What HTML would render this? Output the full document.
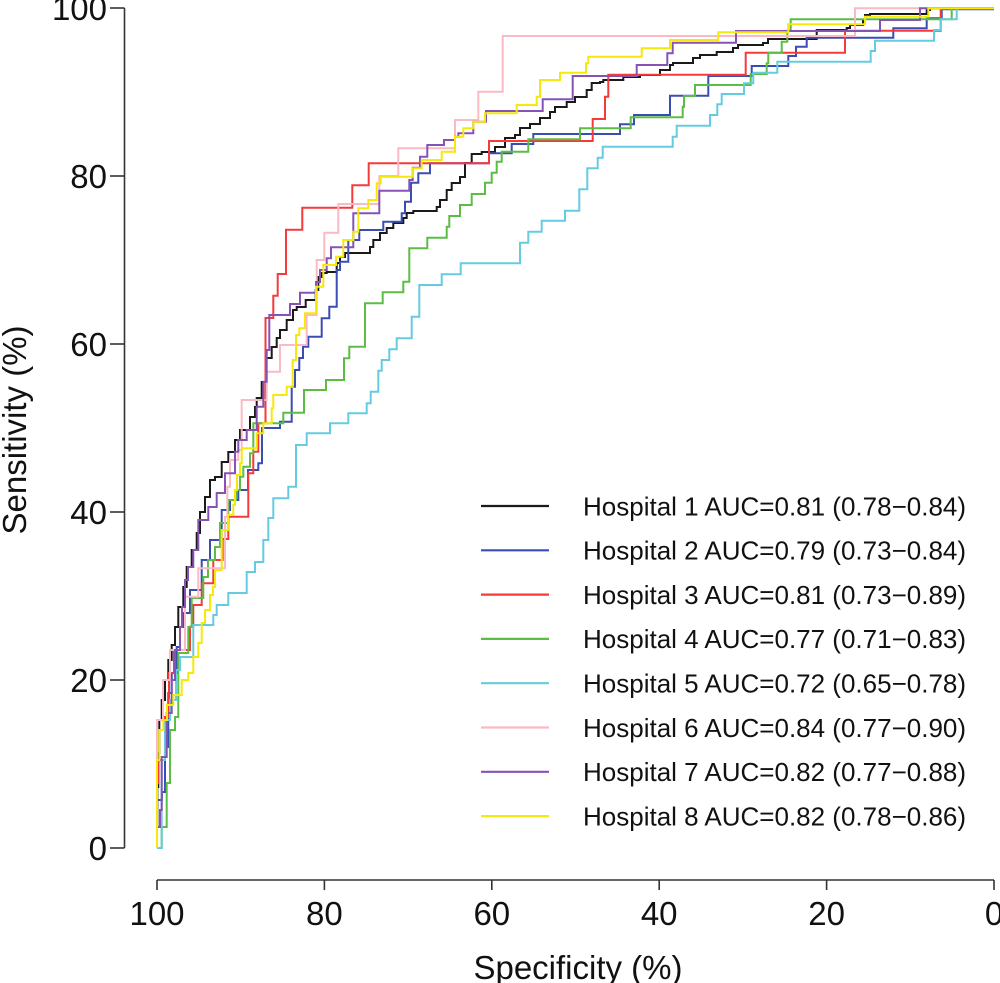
<!DOCTYPE html>
<html>
<head>
<meta charset="utf-8">
<style>
  html, body { margin: 0; padding: 0; background: #ffffff; }
  svg { display: block; }
  text { font-family: "Liberation Sans", Arial, sans-serif; fill: #111; }
</style>
</head>
<body>
<svg width="1000" height="983" viewBox="0 0 1000 983" xmlns="http://www.w3.org/2000/svg">
  <rect width="1000" height="983" fill="#ffffff"/>

  <!-- Axes -->
  <g stroke="#333" stroke-width="1.6" fill="none">
    <line x1="124.5" y1="8" x2="124.5" y2="848"/>
    <line x1="110" y1="848" x2="124.5" y2="848"/>
    <line x1="110" y1="680" x2="124.5" y2="680"/>
    <line x1="110" y1="512" x2="124.5" y2="512"/>
    <line x1="110" y1="344" x2="124.5" y2="344"/>
    <line x1="110" y1="176" x2="124.5" y2="176"/>
    <line x1="110" y1="8" x2="124.5" y2="8"/>

    <line x1="157" y1="880" x2="994" y2="880"/>
    <line x1="157" y1="880" x2="157" y2="890"/>
    <line x1="324.4" y1="880" x2="324.4" y2="890"/>
    <line x1="491.8" y1="880" x2="491.8" y2="890"/>
    <line x1="659.2" y1="880" x2="659.2" y2="890"/>
    <line x1="826.6" y1="880" x2="826.6" y2="890"/>
    <line x1="994" y1="880" x2="994" y2="890"/>
  </g>

  <!-- Y tick labels -->
  <g font-size="33" text-anchor="end">
    <text x="107" y="860">0</text>
    <text x="107" y="692">20</text>
    <text x="107" y="524">40</text>
    <text x="107" y="356">60</text>
    <text x="107" y="188">80</text>
    <text x="107" y="20">100</text>
  </g>
  <!-- X tick labels -->
  <g font-size="33" text-anchor="middle">
    <text x="157" y="925">100</text>
    <text x="324.4" y="925">80</text>
    <text x="491.8" y="925">60</text>
    <text x="659.2" y="925">40</text>
    <text x="826.6" y="925">20</text>
    <text x="994" y="925">0</text>
  </g>

  <!-- Axis titles -->
  <text x="578" y="979" font-size="33" text-anchor="middle">Specificity (%)</text>
  <text transform="translate(26,430) rotate(-90)" font-size="33" text-anchor="middle">Sensitivity (%)</text>

  <!-- Curves -->
  <g fill="none" stroke-width="2" stroke-linejoin="miter">
    <!-- Hospital 1 black -->
    <path stroke="#1a1a1a" d="M157,848 V827 H157.3 V787 H158.3 V753 H159.3 V720 H161.7 V700 H165 V680 H168.3 V660 H171.7 V645 H175 V627 H178.3 V607 H183.3 V587 H186.7 V567 H191.7 V550 H196.7 V533 H200 V512 H205 V497 H210 V480 H215 V477 H221.7 V462 H228.3 V452 H235 V440 H240 V430 H250 V417 H255 V407 H256.7 V398 H261.7 V382 H266 V358 H271.7 V347 H276.7 V338 H280 V330 H286.7 V320 H293 V310 H296.7 V307 H305.7 V300 H315.7 V290 H318.3 V277 H321.7 V273 H326.7 V272 H336.7 V263 H340 V257 H345 V253 H370 V247 H373.3 V240 H380 V233 H386.7 V228 H393.3 V223 H403.3 V218 H406.7 V213 H413.3 V211 H436.7 V207 H440 V200 H446.7 V190 H451.7 V183 H460 V177 H465 V163 H471.7 V154 H481.7 V152 H495 V147 H505 V138 H515 V135 H520 V128 H530 V124 H540 V118 H550 V112 H555 V107 H566.7 V102 H575 V97 H586.7 V90 H591.7 V83 H600 V82 H603.3 V80 H623.3 V77 H640 V75 H660 V70 H670 V65 H673 V63 H693 V58 H700 V55 H716.7 V52 H733 V48 H738 V45 H763 V43 H768 V39 H816.7 V30 H846.7 V28 H850 V25 H863 V20 H865 V15 H870 V14 H926.7 V10 H930 V8.3 H994"/>
    <!-- Hospital 2 blue -->
    <path stroke="#3a4db4" d="M157,848 V800 H162 V792 H165 V747 H168.3 V693 H171.7 V673 H176.7 V647 H180 V627 H183.3 V613 H190 V590 H201.7 V560 H210 V540 H221.7 V510 H230 V500 H238.3 V490 H248 V470 H258.3 V463.3 H262 V428 H280 V421.7 H291.7 V386.7 H295 V370 H299.3 V358 H303 V346.7 H308.3 V336.7 H321.7 V318.3 H329.3 V306.7 H336.7 V270 H340 V261.7 H348.3 V240 H359.3 V230 H383.3 V221.7 H401.7 V213.3 H405 V201.7 H411 V182.7 H418.3 V173.3 H430 V163.3 H489 V153.3 H511.7 V144 H533.3 V134 H620 V124.3 H634 V115 H670 V95.7 H708.3 V76 H751.7 V66 H788.3 V56 H796 V46.7 H806.7 V37.7 H893.3 V28.3 H926.7 V18.3 H941.7 V9.3 H994"/>
    <!-- Hospital 3 red -->
    <path stroke="#f53a3a" d="M157,848 V783 H158.5 V760 H165 V717 H169 V673 H174 V650 H190 V626.7 H193.3 V605 H201.7 V583.3 H213.3 V560 H222.7 V539 H228.3 V516.7 H248.3 V473.3 H253.3 V451.7 H258.3 V423.3 H265.5 V318 H273.3 V295.7 H277.7 V274 H286 V229.7 H302.3 V207.7 H352.3 V185.3 H368.7 V163.3 H489 V141 H592.7 V119 H605 V96.7 H608.3 V74.7 H745.7 V52.7 H845 V30.7 H940.7 V8.3 H994"/>
    <!-- Hospital 4 green -->
    <path stroke="#5cbd45" d="M157,848 H161.7 V827 H166.7 V783 H170 V730 H175 V717 H178.3 V653 H188.3 V627 H191.7 V598 H203.3 V577 H208 V560 H215 V547 H220 V523 H228.3 V500 H236 V490 H240 V476.7 H243.3 V466.7 H250 V453.3 H253.3 V423.3 H283.3 V412.7 H304 V390 H326 V380 H344 V358.3 H349.3 V346.7 H365 V303.3 H382.7 V292.3 H403.3 V281.7 H409.3 V248.3 H427.3 V237.7 H446.7 V226.7 H449.3 V216 H460 V205 H471.7 V194 H485 V182.7 H491.7 V172.7 H496.7 V161.7 H501.7 V151.7 H528.3 V139.3 H580 V128.3 H630.7 V117.3 H682.7 V106.7 H684 V96 H695 V85 H750.7 V74 H766.7 V63.3 H768.3 V52.7 H781.7 V41.7 H787.3 V30.7 H790.7 V19.3 H951.7 V8.3 H994"/>
    <!-- Hospital 5 cyan -->
    <path stroke="#65cbe0" d="M157,848 H161.7 V760 H165 V720 H170 V700 H176 V670 H180 V657 H193.3 V625 H213.3 V615 H216.7 V605 H228.3 V593 H246.7 V572 H255 V562 H263.3 V540 H268.3 V518 H273.3 V498.3 H288.3 V486.7 H296 V445 H306.7 V433.3 H330 V423.3 H348.3 V413.3 H366.7 V403.3 H370.7 V391.7 H378.3 V370.7 H381.7 V360 H389.3 V349.3 H396.7 V338.3 H411.7 V316.7 H419.3 V285 H441.7 V274.3 H460.7 V263.3 H520 V242.7 H528.3 V231.7 H541.7 V220.7 H565 V210.7 H579.3 V189.3 H587.3 V168.3 H597.7 V157.7 H602.7 V146.7 H672.7 V136.7 H676.7 V125.7 H710 V115 H717.3 V104.3 H721.7 V94 H744 V83.3 H753.3 V72.7 H777.3 V61.7 H870.7 V51 H875 V40.7 H934 V30 H940.7 V19.3 H956.7 V8.3 H994"/>
    <!-- Hospital 6 pink -->
    <path stroke="#fbb9c5" d="M157,848 V720 H163 V680 H170 V650 H185 V596.7 H198.3 V568.3 H225 V517 H227.3 V486.7 H230 V460 H238.3 V450 H241.7 V400 H266.7 V371.7 H280 V345 H306.7 V315 H316.7 V260 H324.3 V232.7 H338.3 V204 H379.3 V176 H398.3 V148.3 H455 V120 H478.3 V91.7 H502.7 V36 H855 V8.3 H994"/>
    <!-- Hospital 7 purple -->
    <path stroke="#8653b5" d="M157,848 V827 H160 V810 H161.7 V757 H166.7 V713 H171.7 V680 H175 V650 H180 V627 H182 V607 H185 V580 H188 V567 H193.3 V550 H198.3 V520 H208.3 V507 H216.7 V493 H225 V473.3 H235 V451.7 H238.3 V440 H246.7 V430 H256.7 V406.7 H263.3 V381.7 H266.7 V350 H269.3 V315 H290 V304 H300 V292.7 H316 V282 H320 V270 H326.7 V258.3 H331 V247.3 H353.3 V213.3 H379.3 V190.7 H409.3 V180 H412.7 V167.7 H420 V156.7 H427.3 V145 H444 V140 H455 V136.7 H458.3 V133.3 H473.3 V121.7 H486 V111 H542.7 V99.3 H572.7 V76 H636.7 V65 H667.3 V53.3 H672.7 V42.7 H736 V31 H880 V20 H920 V8.3 H994"/>
    <!-- Hospital 8 yellow -->
    <path stroke="#f5e80a" d="M157,848 V760 H159.3 V730 H163.3 V720 H167 V705 H173.3 V695 H181.7 V680 H188.3 V673 H193.3 V657 H198.3 V643 H201.7 V623 H205 V610 H210 V595 H213 V587 H215 V570 H221.7 V530 H228 V515 H233.3 V505 H235 V490 H237 V475 H240 V463.3 H241.7 V448.3 H256.7 V433.3 H263.3 V423.3 H271.7 V408.3 H273.3 V395 H286.7 V386.7 H292.7 V360 H296 V335 H299.3 V328.3 H305 V313.3 H316 V286.7 H323.3 V265 H336 V256.7 H343.3 V240 H353.3 V231.7 H358.3 V208.3 H368.3 V200 H376.7 V183.3 H380.7 V176.7 H412.7 V168.3 H421.7 V160 H441.7 V151.7 H455 V136.7 H463.3 V128.3 H473.3 V121.7 H485 V113.3 H516.7 V105 H536.7 V96.7 H540 V80 H560 V72.7 H586 V63.3 H588.3 V56.7 H641.7 V48.3 H670 V40 H718.3 V32.3 H788.3 V24.3 H865 V16.7 H928.3 V8.3 H994"/>
  </g>

  <!-- Legend -->
  <g stroke-width="2.2">
    <line x1="481" y1="506" x2="549" y2="506" stroke="#1a1a1a"/>
    <line x1="481" y1="550.3" x2="549" y2="550.3" stroke="#3a4db4"/>
    <line x1="481" y1="594.6" x2="549" y2="594.6" stroke="#f53a3a"/>
    <line x1="481" y1="638.9" x2="549" y2="638.9" stroke="#5cbd45"/>
    <line x1="481" y1="683.2" x2="549" y2="683.2" stroke="#65cbe0"/>
    <line x1="481" y1="727.5" x2="549" y2="727.5" stroke="#fbb9c5"/>
    <line x1="481" y1="771.8" x2="549" y2="771.8" stroke="#8653b5"/>
    <line x1="481" y1="816.1" x2="549" y2="816.1" stroke="#f5e80a"/>
  </g>
  <g font-size="26">
    <text x="583" y="515.3">Hospital 1 AUC=0.81 (0.78−0.84)</text>
    <text x="583" y="559.6">Hospital 2 AUC=0.79 (0.73−0.84)</text>
    <text x="583" y="603.9">Hospital 3 AUC=0.81 (0.73−0.89)</text>
    <text x="583" y="648.2">Hospital 4 AUC=0.77 (0.71−0.83)</text>
    <text x="583" y="692.5">Hospital 5 AUC=0.72 (0.65−0.78)</text>
    <text x="583" y="736.8">Hospital 6 AUC=0.84 (0.77−0.90)</text>
    <text x="583" y="781.1">Hospital 7 AUC=0.82 (0.77−0.88)</text>
    <text x="583" y="825.4">Hospital 8 AUC=0.82 (0.78−0.86)</text>
  </g>
</svg>
</body>
</html>
